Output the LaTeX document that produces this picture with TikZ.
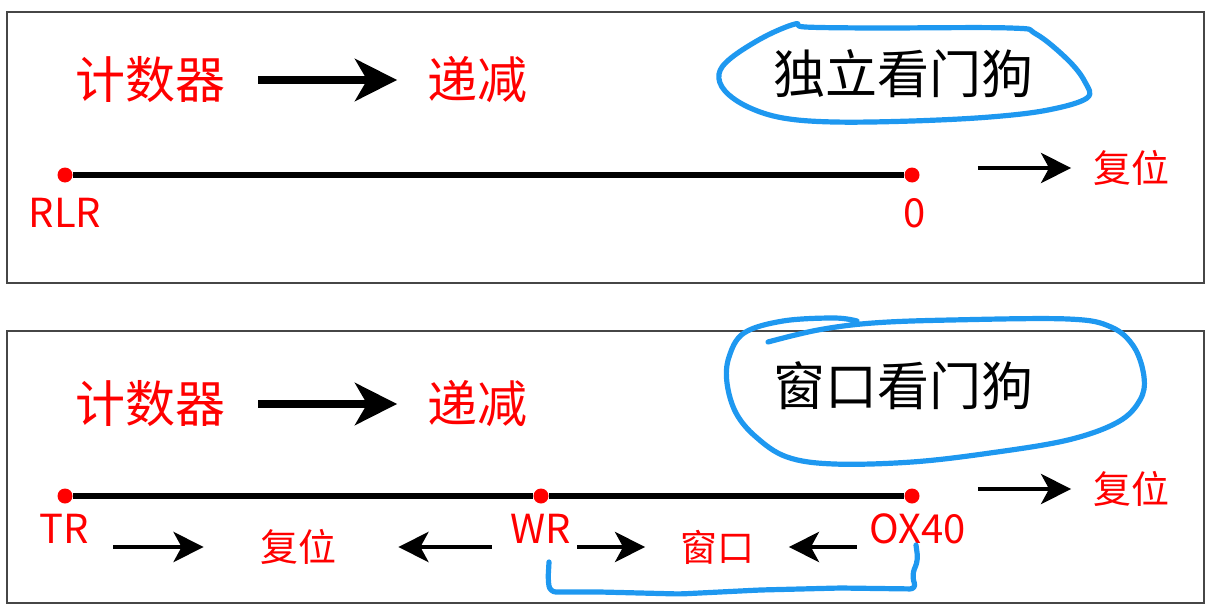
\documentclass[tikz,border=0pt]{standalone}
\usepackage{fontspec}
\setmainfont{Noto Sans CJK SC}
\usetikzlibrary{arrows.meta,positioning}
\definecolor{handblue}{RGB}{30,152,240}
\definecolor{framegray}{RGB}{70,70,70}
\tikzstyle{frame}=[draw=framegray, line width=1.1pt]
\tikzstyle{bigtext}=[text=red, inner sep=0pt, font=\fontsize{25pt}{30pt}\selectfont]
\tikzstyle{titletext}=[text=black, inner sep=0pt, font=\fontsize{26pt}{30pt}\selectfont]
\tikzstyle{smalltext}=[text=red, inner sep=0pt, font=\fontsize{19pt}{22pt}\selectfont]
\tikzstyle{labeltext}=[text=red, inner sep=0pt, font=\fontsize{20pt}{24pt}\selectfont]
\tikzstyle{dotnode}=[circle, fill=red, inner sep=0pt, minimum size=7.5pt]
\tikzstyle{timeline}=[line width=2.6pt, black]
\tikzstyle{bigarrow}=[line width=3.6pt, -{Stealth[length=21pt,width=21pt,inset=6pt]}]
\tikzstyle{smallarrow}=[line width=2.4pt, -{Stealth[length=15pt,width=15pt,inset=4pt]}]
\tikzstyle{handline}=[draw=handblue, line width=2.6pt, line cap=round, line join=round]

\begin{document}
\begin{tikzpicture}[x=0.5pt, y=-0.5pt]
    \useasboundingbox (0,0) rectangle (1209,610);

    % frames
    \draw[frame] (7,12) rectangle (1204,283);
    \draw[frame] (7,331) rectangle (1204,603);

    % independent watchdog
    \node[bigtext] (cnt1) at (150,80) {计数器};
    \node[bigtext] (dec1) at (477.5,80) {递减};
    \node[titletext] (iwdg) at (903,74) {独立看门狗};
    \node[dotnode] (rlr) at (65,175) {};
    \node[dotnode] (zero) at (912,175) {};
    \node[labeltext] (rlrtxt) at (65,213) {RLR};
    \node[labeltext] (zerotxt) at (915,213) {0};
    \node[smalltext] (rst1) at (1131.5,168) {复位};

    \draw[bigarrow, shorten <=16.5pt, shorten >=15pt] (cnt1) -- (dec1);
    \draw[timeline] (rlr) -- (zero);
    \draw[smallarrow, shorten <=29pt, shorten >=11pt] (zero.east |- rst1) -- (rst1);
    \draw[handline] plot[smooth cycle, tension=0.6] coordinates {
        (795,24) (764,37) (731,58) (719,74) (725,91) (748,107) (783,118)
        (834,122) (912,121) (990,117) (1048,110) (1087,98) (1085,82)
        (1068,60) (1036,34) (1010,28) (873,28) (805,27)};

    % window watchdog
    \node[bigtext] (cnt2) at (150,404) {计数器};
    \node[bigtext] (dec2) at (477.5,404) {递减};
    \node[titletext] (wwdg) at (903,386) {窗口看门狗};
    \node[dotnode] (tr) at (65,496) {};
    \node[dotnode] (wr) at (541,496) {};
    \node[dotnode] (ox) at (912,496) {};
    \node[labeltext] (trtxt) at (64,529) {TR};
    \node[labeltext] (wrtxt) at (540.5,529) {WR};
    \node[labeltext] (oxtxt) at (917.5,529) {OX40};
    \node[smalltext] (rst2) at (298,547) {复位};
    \node[smalltext, font=\fontsize{18.5pt}{22pt}\selectfont] (win) at (717.5,547) {窗口};
    \node[smalltext] (rst3) at (1131.5,489) {复位};

    \draw[bigarrow, shorten <=16.5pt, shorten >=15pt] (cnt2) -- (dec2);
    \draw[timeline] (tr) -- (wr);
    \draw[timeline] (wr) -- (ox);
    \draw[smallarrow, shorten <=29pt, shorten >=11pt] (ox.east |- rst3) -- (rst3);
    \draw[smallarrow, shorten <=12pt, shorten >=28pt] (trtxt.east |- rst2) -- (rst2);
    \draw[smallarrow, shorten <=9pt, shorten >=31pt] (wrtxt.west |- rst2) -- (rst2);
    \draw[smallarrow, shorten <=3pt, shorten >=17.5pt] (wrtxt.east |- win) -- (win);
    \draw[smallarrow, shorten <=6pt, shorten >=17pt] (oxtxt.west |- win) -- (win);
    \draw[handline] plot[smooth, tension=0.6] coordinates {
        (768,342) (818,330) (873,323) (951,320) (1068,319) (1111,327)
        (1134,347) (1144,377) (1140,400) (1118,422) (1068,440) (990,453)
        (912,462) (834,464) (787,457) (756,437) (736,413) (727,383)
        (729,357) (744,333) (783,321) (834,318) (857,321)};
    \draw[handline, rounded corners=3pt] (549,562) -- (548,580) -- (550,592)
        -- (600,592) -- (680,594) -- (760,590) -- (840,588) -- (916,589)
        -- (912,575) -- (918,560) -- (916,545);
\end{tikzpicture}
\end{document}
